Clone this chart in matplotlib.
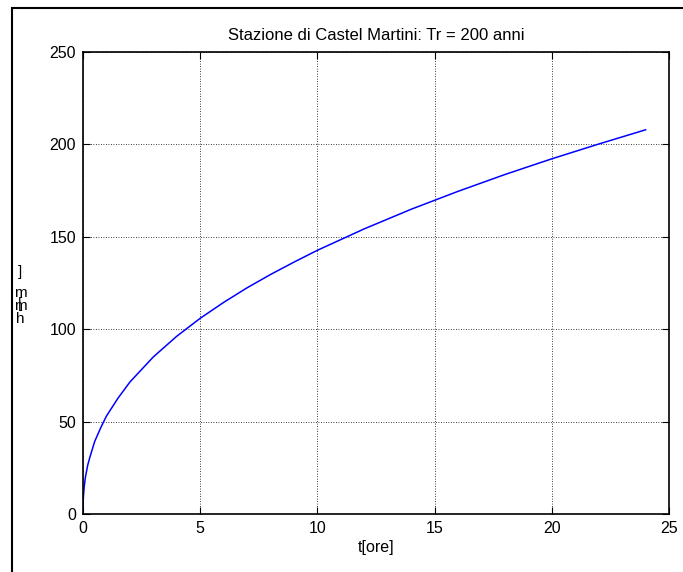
import matplotlib
matplotlib.use("Agg")
import matplotlib.pyplot as plt
from matplotlib.patches import Rectangle

# ── Data (depth-duration curve, Tr = 200 anni) ───────────────────────────────
t_ore = [0, 0.01, 0.02, 0.05, 0.1, 0.2, 0.3, 0.5, 0.75, 1, 1.5, 2, 3, 4, 5,
         6, 7, 8, 9, 10, 12, 14, 16, 18, 20, 22, 24]
h_mm = [0, 7.3, 9.9, 14.6, 19.7, 26.4, 31.0, 39.3, 46.5, 53.0, 62.8, 71.4,
        85.0, 96.2, 105.9, 114.5, 122.4, 129.6, 136.3, 142.7, 154.3, 164.9,
        174.6, 183.7, 192.2, 200.2, 207.9]

x_ticks = [0, 5, 10, 15, 20, 25]
y_ticks = [0, 50, 100, 150, 200, 250]

plt.rcParams["font.family"] = ["Liberation Sans", "DejaVu Sans"]

W, H = 683, 572
fig = plt.figure(figsize=(W / 100, H / 100), dpi=100)

# figure frame (partly cut off on the right / bottom)
fig.patches.append(Rectangle((12 / W, -0.1), 1.2, 1 - 8 / H + 0.1,
                             transform=fig.transFigure, fill=False,
                             edgecolor="black", linewidth=1.5))

ax = fig.add_axes([83 / W, 1 - 514 / H, (669 - 83) / W, (514 - 52) / H])
ax.plot(t_ore, h_mm, color="#0000ff", linewidth=1.1)

ax.set_xlim(0, 25)
ax.set_ylim(0, 250)
ax.set_xticks(x_ticks)
ax.set_yticks(y_ticks)
ax.tick_params(direction="in", length=5, width=0.8, labelsize=11.5,
               top=True, right=True, pad=5)
ax.grid(True, color="black", linestyle=(0, (1, 2)), linewidth=0.6)
for s in ax.spines.values():
    s.set_linewidth(1.2)

ax.set_title("Stazione di Castel Martini: Tr = 200 anni", fontsize=12, pad=9)
ax.set_xlabel("t[ore]", fontsize=11.5, labelpad=3)

# y label "h[mm]" as it shows in the reference: glyphs stacked upright
fig.text(20 / W, 1 - 272 / H, "]", ha="center", va="center", fontsize=11)
fig.text(20 / W, 1 - 306 / H, "m\nm\nh", ha="center", va="center",
         fontsize=11, linespacing=0.9)
fig.text(20 / W, 1 - 304 / H, "[", ha="center", va="center", fontsize=11)

fig.savefig("out.png", dpi=100)
